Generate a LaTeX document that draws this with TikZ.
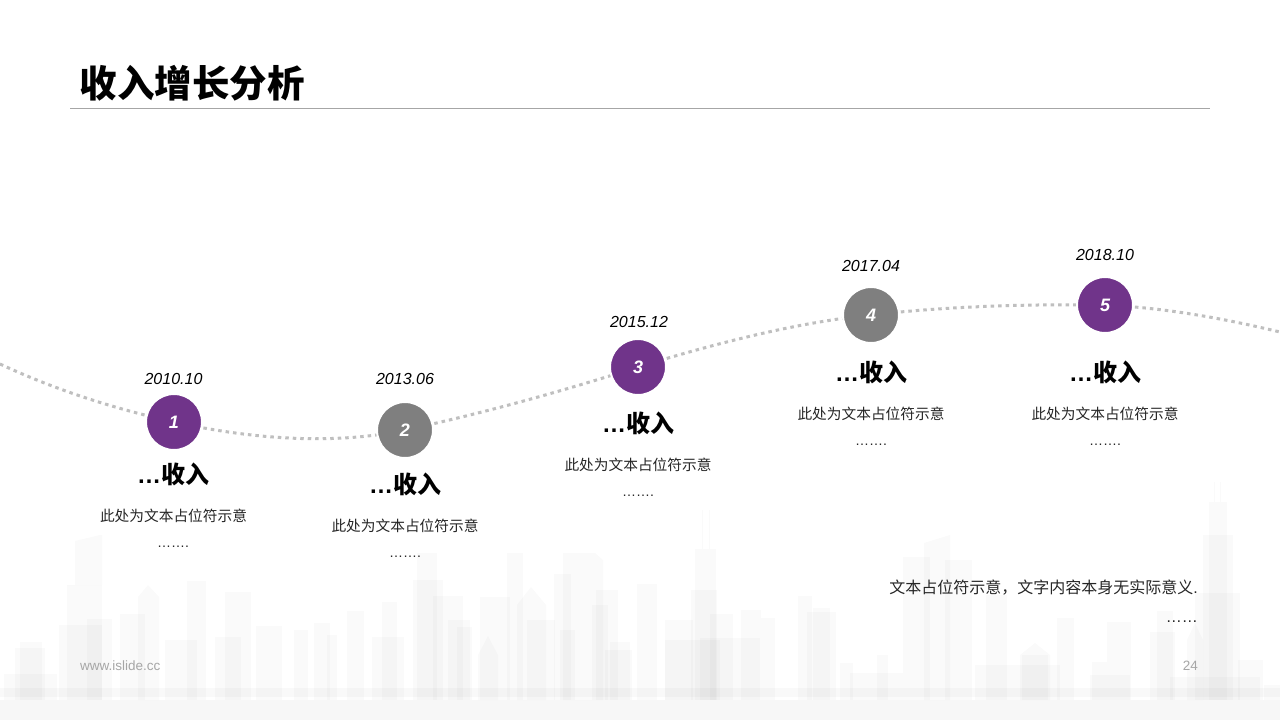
\documentclass[tikz,border=0pt]{standalone}
\usepackage{fontspec}
\setmainfont{Liberation Sans}
\newfontfamily\cjk{Noto Sans CJK SC}
\definecolor{brandpurple}{HTML}{70348A}
\definecolor{brandgrey}{HTML}{7F7F7F}
\definecolor{curvegrey}{HTML}{BFBFBF}
\definecolor{rulegrey}{HTML}{A6A6A6}
\definecolor{bodyink}{HTML}{262626}
\newcommand{\fs}[1]{\fontsize{#1}{#1}\selectfont}
\tikzset{
  bldg/.style={fill=black,fill opacity=.02,draw=none},
  band/.style={fill=black,fill opacity=.025,draw=none},
  purplenode/.style={circle,minimum size=56,inner sep=0,fill=brandpurple,draw=white,line width=2,text=white,font=\fs{18}\bfseries\itshape},
  greynode/.style={circle,minimum size=56,inner sep=0,fill=brandgrey,draw=white,line width=2,text=white,font=\fs{18}\bfseries\itshape},
  datelabel/.style={inner sep=0,font=\fs{16}\itshape,text=black},
  headlabel/.style={inner sep=0,font=\fs{24}\bfseries,text=black},
  bodylabel/.style={inner sep=0,font=\fs{14.7},text=bodyink},
  notelabel/.style={inner sep=0,font=\fs{16},text=bodyink},
  dotslabel/.style={inner sep=0,font=\fs{14},text=bodyink},
  footlabel/.style={inner sep=0,font=\fs{13.5},text=rulegrey},
  curve/.style={curvegrey,line width=3,dash pattern=on 3.5 off 4},
}
\begin{document}
\begin{tikzpicture}[x=1pt,y=-1pt]
\useasboundingbox (0,0) rectangle (1280,720);
\fill[white] (0,0) rectangle (1280,720);
% skyline
\fill[black!3.2] (0,700) rectangle (1280,720);
\foreach \a/\t/\b in {
 15/648/45, 20/642/42, 4/674/57, 59/625/102, 67/585/102, 87/619/112, 120/614/145,
 187/581/206, 225/592/251, 256/626/282, 215/637/241, 165/640/197, 294/630/308, 314/623/330,
 327/635/337, 347/611/364, 382/602/397, 372/637/404, 413/580/443, 417/553/437, 433/596/463,
 480/597/510, 507/553/523, 554/574/571, 596/590/618, 592/605/608, 637/584/657, 610/642/630,
 665/620/693, 691/590/717, 695/549/716, 710/614/733, 741/610/761, 761/618/775, 798/596/812,
 807/612/836, 813/608/830, 840/663/853, 665/640/720, 700/638/760, 448/620/470, 457/627/472,
 527/620/555, 560/630/575, 605/650/632, 850/673/903, 877/655/888, 903/557/930, 945/560/972,
 986/595/1007, 1057/618/1074, 1107/622/1131, 975/665/1060, 1022/655/1048, 1150/632/1175,
 1157/611/1173, 1195/593/1240, 1203/535/1233, 1209/502/1227, 1090/675/1130, 1092/662/1107,
 1238/660/1263, 1170/677/1260, 1264/685/1280}
 {\fill[bldg] (\a,\t) rectangle (\b,700);}
% slanted, peaked and rounded tops
\fill[bldg] (75,541) -- (100,535) -- (102,535) -- (102,585) -- (67,585) -- (75,585) -- cycle;
\fill[bldg] (138,700) -- (138,597) -- (148,585) -- (159,597) -- (159,700) -- cycle;
\fill[bldg] (517,700) -- (517,605) -- (531,587) -- (546,605) -- (546,700) -- cycle;
\fill[bldg] (478,700) -- (478,655) -- (488,636) -- (498,655) -- (498,700) -- cycle;
\fill[bldg] (563,700) -- (563,553) -- (595,553) -- (603,560) -- (603,700) -- cycle;
\fill[bldg] (924,700) -- (924,543) -- (950,535) -- (950,700) -- cycle;
\fill[bldg] (1187,700) -- (1187,640) -- (1195,623) -- (1203,640) -- (1203,700) -- cycle;
\fill[bldg] (1020,700) -- (1020,655) -- (1035,643) -- (1050,655) -- (1050,700) -- cycle;
\fill[bldg] (702,549) rectangle (703,510); \fill[bldg] (709,549) rectangle (710,510);
\fill[bldg] (1214,502) rectangle (1215,482); \fill[bldg] (1220,502) rectangle (1221,482);
\fill[band] (0,688) rectangle (1280,697);
% title
\node[anchor=west,inner sep=0,font=\cjk\fs{37.5}\bfseries,text=black] (title) at (79.5,83) {收入增长分析};
\coordinate (ruleL) at (70,108);
\coordinate (ruleR) at (1210,108);
\draw[rulegrey,line width=1] (ruleL) -- (ruleR);
% curve
\coordinate (cstart) at (0,364);
\coordinate (cend) at (1280,332);
\coordinate (p1) at (174,422);
\coordinate (p2) at (405,430);
\coordinate (p3) at (638,367);
\coordinate (p4) at (871,315);
\coordinate (p5) at (1105,305);
\draw[curve] (cstart) .. controls (60,392) and (120,410) .. (p1);
\draw[curve] (p1) .. controls (260,441) and (340,444) .. (p2);
\draw[curve] (p2) .. controls (480,414) and (560,392) .. (p3);
\draw[curve] (p3) .. controls (720,342) and (800,322) .. (p4);
\draw[curve] (p4) .. controls (950,306) and (1030,304) .. (p5);
\draw[curve] (p5) .. controls (1170,308) and (1230,320) .. (cend);
% milestones
\node[purplenode] (n1) at (p1) {1};
\node[greynode]   (n2) at (p2) {2};
\node[purplenode] (n3) at (p3) {3};
\node[greynode]   (n4) at (p4) {4};
\node[purplenode] (n5) at (p5) {5};
\node[datelabel] (d1) at (173.5,379) {2010.10};
\node[datelabel] (d2) at (405,379) {2013.06};
\node[datelabel] (d3) at (639,322) {2015.12};
\node[datelabel] (d4) at (871,266) {2017.04};
\node[datelabel] (d5) at (1105,255) {2018.10};
\node[headlabel] (h1) at (173,474) {…{\cjk 收入}};
\node[headlabel] (h2) at (405,484) {…{\cjk 收入}};
\node[headlabel] (h3) at (638,423) {…{\cjk 收入}};
\node[headlabel] (h4) at (871,372) {…{\cjk 收入}};
\node[headlabel] (h5) at (1105,372) {…{\cjk 收入}};
\node[bodylabel] (b1) at (173.5,516) {\cjk 此处为文本占位符示意};
\node[bodylabel] (b2) at (405,526) {\cjk 此处为文本占位符示意};
\node[bodylabel] (b3) at (638,465) {\cjk 此处为文本占位符示意};
\node[bodylabel] (b4) at (871,414) {\cjk 此处为文本占位符示意};
\node[bodylabel] (b5) at (1105,414) {\cjk 此处为文本占位符示意};
\node[dotslabel] (e1) at (173,547) {…….};
\node[dotslabel] (e2) at (405,557) {…….};
\node[dotslabel] (e3) at (638,496) {…….};
\node[dotslabel] (e4) at (871,445) {…….};
\node[dotslabel] (e5) at (1105,445) {…….};
% note
\node[notelabel,anchor=east] (note) at (1198,588) {{\cjk 文本占位符示意，文字内容本身无实际意义}.};
\node[notelabel,anchor=east] (noteb) at (1198,622) {……};
% footer
\node[footlabel,anchor=west] (site) at (80,666) {www.islide.cc};
\node[footlabel,anchor=east] (page) at (1198,666) {24};
\end{tikzpicture}
\end{document}
